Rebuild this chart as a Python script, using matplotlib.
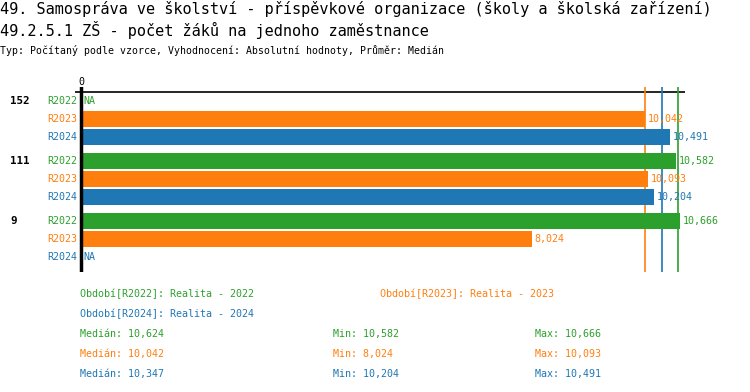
import numpy as np
import matplotlib
matplotlib.use("Agg")
from matplotlib import pyplot as plt

# data
groups = ["152", "111", "9"]
series = ["R2022", "R2023", "R2024"]
series_names = ["Realita - 2022", "Realita - 2023", "Realita - 2024"]
r2022 = [np.nan, 10.582, 10.666]
r2023 = [10.042, 10.093, 8.024]
r2024 = [10.4908, 10.2040, np.nan]
values = [r2022, r2023, r2024]
colors = ["#2ca02c", "#ff7f0e", "#1f77b4"]

W, H = 750, 392
plt.rcParams["font.family"] = ["DejaVu Sans Mono", "DejaVu Sans"]
fs = 7.2

def fmt(v):
    return f"{v:.3f}".replace(".", ",")

def px(x, y):
    return x / W, 1 - y / H

fig = plt.figure(figsize=(W / 100, H / 100), dpi=100)

# axes placed in pixel terms: left 75, right 685, top 87, bottom 272
ax = fig.add_axes([75 / W, 1 - 272 / H, (685 - 75) / W, (272 - 87) / H])
ax.set_xlim(-0.107, 10.75)
ax.set_ylim(171, -14)
ax.axis("off")

ax.axhline(-9, color="black", lw=1.2)
for si, s in enumerate(series):
    med = np.nanmedian(values[si])
    ax.axvline(med, color=colors[si], lw=1.2)
ax.axvline(0, color="black", lw=2.5, zorder=5)

for gi, g in enumerate(groups):
    for si, s in enumerate(series):
        y = gi * 60 + si * 18
        v = values[si][gi]
        if np.isnan(v):
            ax.text(0.05, y, "NA", color=colors[si], fontsize=fs, va="center", ha="left")
        else:
            ax.barh(y, v, height=16, color=colors[si], zorder=3)
            ax.text(v + 0.05, y, fmt(v), color=colors[si], fontsize=fs, va="center", ha="left", zorder=4)
        ax.text(-0.07, y, s, color=colors[si], fontsize=fs, va="center", ha="right")
    ax.text(-1.26, gi * 60, g, color="black", fontsize=7.8, fontweight="bold", va="center", ha="left")

ax.text(0, -14, "0", fontsize=fs, ha="center", va="bottom", clip_on=False)

# titles
fig.text(*px(0, 9), "49. Samospráva ve školství - příspěvkové organizace (školy a školská zařízení)",
         fontsize=11, va="center", ha="left")
fig.text(*px(0, 30), "49.2.5.1 ZŠ - počet žáků na jednoho zaměstnance",
         fontsize=11, va="center", ha="left")
fig.text(*px(0, 50), "Typ: Počítaný podle vzorce, Vyhodnocení: Absolutní hodnoty, Průměr: Medián",
         fontsize=7.1, va="center", ha="left")

# legend
legend_pos = [(80, 294), (380, 294), (80, 314)]
for si, s in enumerate(series):
    fig.text(*px(*legend_pos[si]), f"Období[{s}]: {series_names[si]}",
             color=colors[si], fontsize=fs, va="center", ha="left")

# stats
for si, s in enumerate(series):
    y = 334 + si * 20
    vals = values[si]
    fig.text(*px(80, y), f"Medián: {fmt(np.nanmedian(vals))}", color=colors[si], fontsize=fs, va="center")
    fig.text(*px(333, y), f"Min: {fmt(np.nanmin(vals))}", color=colors[si], fontsize=fs, va="center")
    fig.text(*px(535, y), f"Max: {fmt(np.nanmax(vals))}", color=colors[si], fontsize=fs, va="center")

fig.savefig("out.png", dpi=100)
